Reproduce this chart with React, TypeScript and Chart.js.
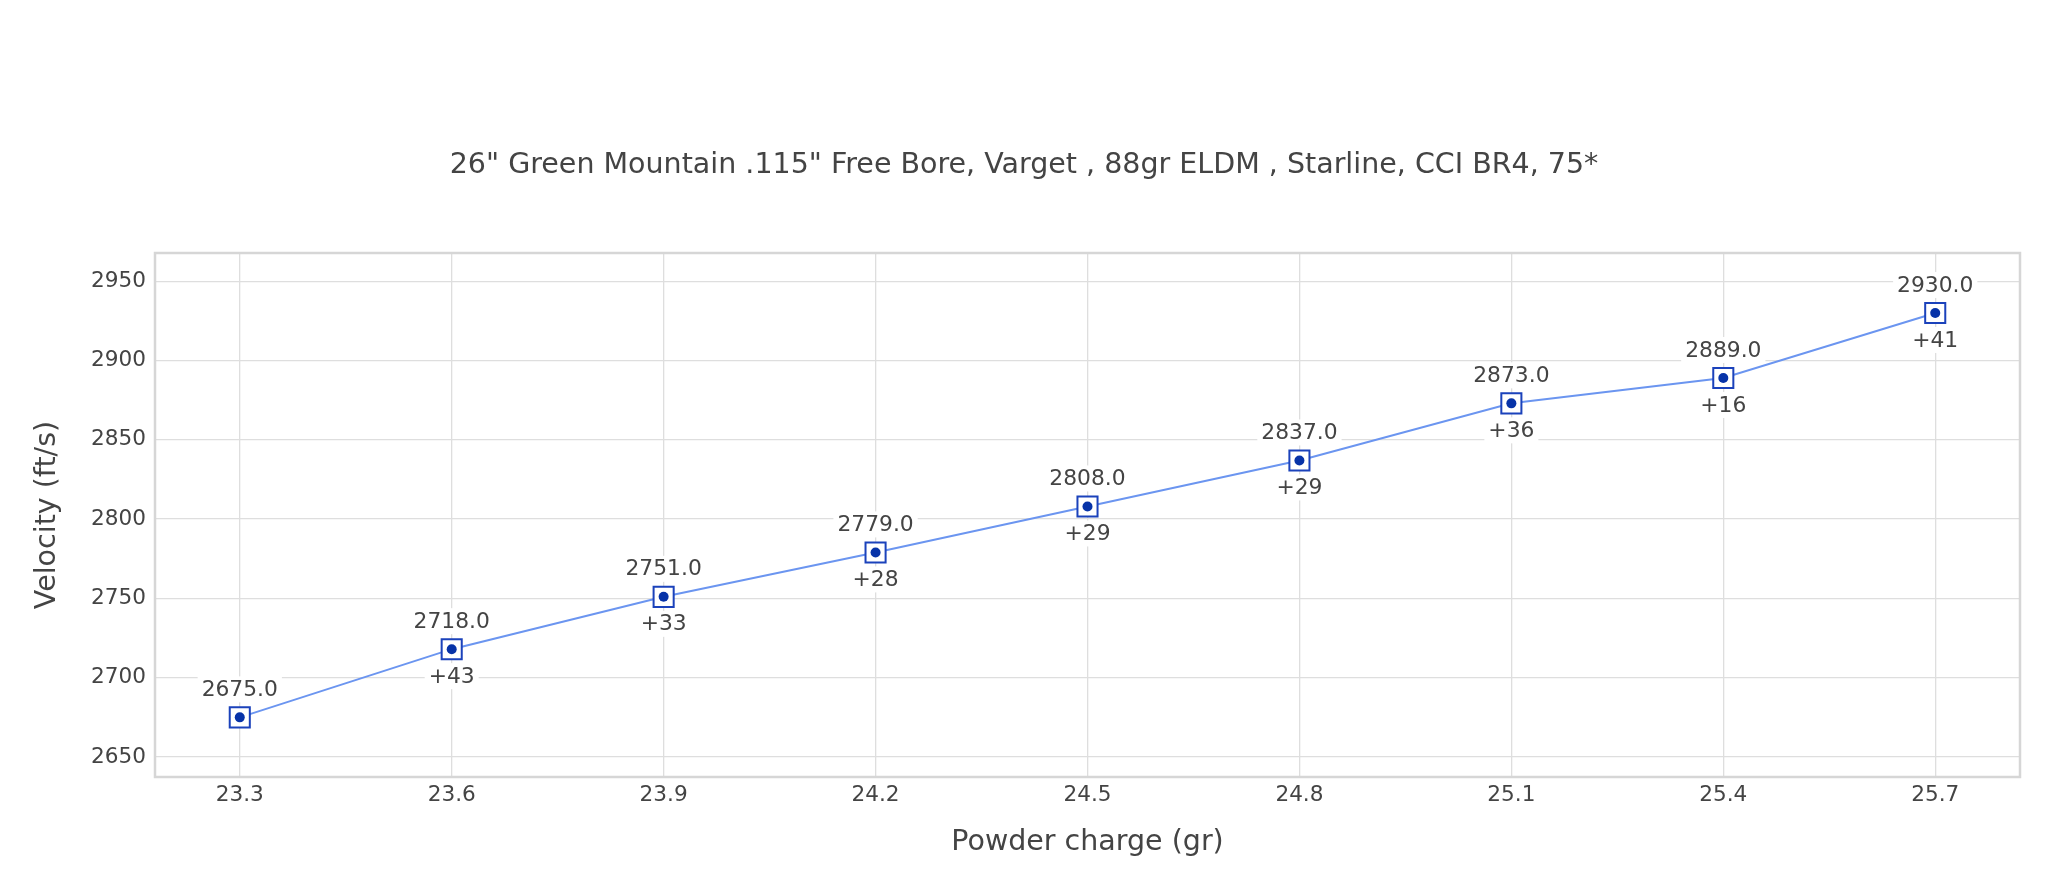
import React, { useEffect, useRef } from "react";
import { Chart, registerables } from "chart.js";

Chart.register(...registerables);

const TITLE = '26" Green Mountain .115" Free Bore, Varget , 88gr ELDM , Starline, CCI BR4, 75*';
const X_TITLE = "Powder charge (gr)";
const Y_TITLE = "Velocity (ft/s)";

const charges = [23.3, 23.6, 23.9, 24.2, 24.5, 24.8, 25.1, 25.4, 25.7];
const velocities = [2675, 2718, 2751, 2779, 2808, 2837, 2873, 2889, 2930];
const deltaLabels = ["", "+43", "+33", "+28", "+29", "+29", "+36", "+16", "+41"];

const xTicks = [23.3, 23.6, 23.9, 24.2, 24.5, 24.8, 25.1, 25.4, 25.7];
const yTicks = [2650, 2700, 2750, 2800, 2850, 2900, 2950];

const X_MIN = 23.18;
const X_MAX = 25.82;
const Y_MIN = 2637.4;
const Y_MAX = 2967.8;

const FONT = "'DejaVu Sans', Verdana, sans-serif";
const TEXT = "#444444";

const framePlugin = {
  id: "frame",
  beforeDatasetsDraw(chart: any) {
    const { ctx, chartArea: a } = chart;
    ctx.save();
    ctx.strokeStyle = "#d6d6d6";
    ctx.lineWidth = 2.5;
    ctx.strokeRect(a.left, a.top, a.right - a.left, a.bottom - a.top);
    ctx.restore();
  },
};

const labelPlugin = {
  id: "pointLabels",
  afterDatasetsDraw(chart: any) {
    const { ctx } = chart;
    const meta = chart.getDatasetMeta(0);
    ctx.save();
    ctx.font = `21.8px ${FONT}`;
    ctx.textAlign = "center";
    ctx.textBaseline = "middle";
    const draw = (text: string, x: number, cy: number) => {
      const w = ctx.measureText(text).width;
      ctx.fillStyle = "#ffffff";
      ctx.fillRect(x - w / 2 - 4, cy - 13, w + 8, 26);
      ctx.fillStyle = TEXT;
      ctx.fillText(text, x, cy + 1);
    };
    meta.data.forEach((pt: any, i: number) => {
      draw(velocities[i].toFixed(1), pt.x, pt.y - 28);
      if (deltaLabels[i]) draw(deltaLabels[i], pt.x, pt.y + 27);
    });
    ctx.restore();
  },
};

export default function App() {
  const ref = useRef<HTMLCanvasElement | null>(null);

  useEffect(() => {
    if (!ref.current) return;
    const pts = charges.map((x, i) => ({ x, y: velocities[i] }));
    const chart = new Chart(ref.current, {
      type: "line",
      data: {
        datasets: [
          {
            data: pts,
            borderColor: "#6b95f0",
            borderWidth: 2,
            pointRadius: 0,
            fill: false,
            tension: 0,
            order: 3,
          },
          {
            data: pts,
            showLine: false,
            pointStyle: "rect",
            pointRadius: 14.2,
            pointBackgroundColor: "#ffffff",
            pointBorderColor: "#1b42bb",
            pointBorderWidth: 2,
            order: 2,
          },
          {
            data: pts,
            showLine: false,
            pointStyle: "circle",
            pointRadius: 5,
            pointBackgroundColor: "#0733a8",
            pointBorderColor: "#0733a8",
            pointBorderWidth: 0,
            order: 1,
          },
        ],
      },
      options: {
        animation: false,
        responsive: true,
        maintainAspectRatio: false,
        events: [],
        layout: { padding: { left: 28, right: 28, top: 0, bottom: 0 } },
        plugins: {
          legend: { display: false },
          tooltip: { enabled: false },
          title: {
            display: true,
            text: TITLE,
            color: TEXT,
            font: { family: FONT, size: 28.5, weight: "normal" },
            padding: { top: 148.9, bottom: 69.9 },
          },
        },
        scales: {
          x: {
            type: "linear",
            min: X_MIN,
            max: X_MAX,
            afterBuildTicks: (s: any) => {
              s.ticks = xTicks.map((v) => ({ value: v }));
            },
            afterFit: (s: any) => {
              s.height = 112;
            },
            grid: { color: "#dedede", lineWidth: 1.3, drawTicks: false },
            border: { display: false },
            ticks: {
              color: TEXT,
              padding: 5,
              font: { family: FONT, size: 21.6 },
              callback: (v: any) => Number(v).toFixed(1),
              maxRotation: 0,
              autoSkip: false,
            },
            title: {
              display: true,
              text: X_TITLE,
              color: TEXT,
              font: { family: FONT, size: 28.5 },
              padding: { top: 0, bottom: 28.9 },
            },
          },
          y: {
            type: "linear",
            min: Y_MIN,
            max: Y_MAX,
            afterBuildTicks: (s: any) => {
              s.ticks = yTicks.map((v) => ({ value: v }));
            },
            afterFit: (s: any) => {
              s.width = 127;
            },
            grid: { color: "#dedede", lineWidth: 1.3, drawTicks: false },
            border: { display: false },
            ticks: {
              color: TEXT,
              padding: 9,
              font: { family: FONT, size: 21.6 },
              callback: (v: any) => String(v),
              autoSkip: false,
            },
            title: {
              display: true,
              text: Y_TITLE,
              color: TEXT,
              font: { family: FONT, size: 28.5 },
              padding: { top: 2.9, bottom: 0 },
            },
          },
        },
      },
      plugins: [framePlugin, labelPlugin],
    } as any);
    return () => chart.destroy();
  }, []);

  return (
    <div
      style={{
        position: "absolute",
        left: 0,
        top: 0,
        width: "2048px",
        height: "889px",
        background: "#ffffff",
      }}
    >
      <canvas ref={ref} />
    </div>
  );
}
